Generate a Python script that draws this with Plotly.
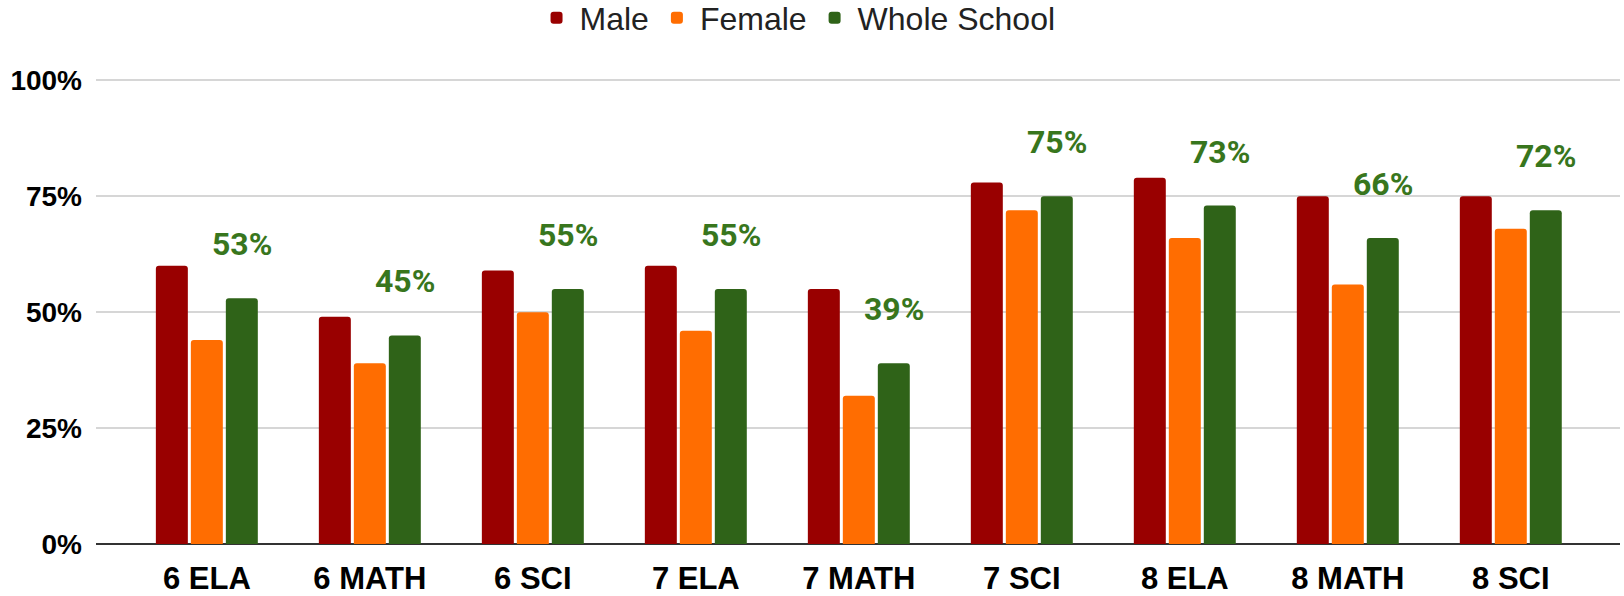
import plotly.graph_objects as go

categories = ["6 ELA", "6 MATH", "6 SCI", "7 ELA", "7 MATH", "7 SCI", "8 ELA", "8 MATH", "8 SCI"]
male = [0.60, 0.49, 0.59, 0.60, 0.55, 0.78, 0.79, 0.75, 0.75]
female = [0.44, 0.39, 0.50, 0.46, 0.32, 0.72, 0.66, 0.56, 0.68]
whole_school = [0.53, 0.45, 0.55, 0.55, 0.39, 0.75, 0.73, 0.66, 0.72]
y_ticks = [0, 0.25, 0.5, 0.75, 1.0]

series = [
    ("Male", male, "#990000"),
    ("Female", female, "#ff6d01"),
    ("Whole School", whole_school, "#2f6318"),
]

fig = go.Figure()
for name, vals, color in series:
    fig.add_trace(
        go.Bar(
            x=categories,
            y=vals,
            name=name,
            marker=dict(color=color, line=dict(width=0), cornerradius=3),
        )
    )

# green value labels floating above the Whole School bars
for cat, v in zip(categories, whole_school):
    fig.add_annotation(
        x=cat,
        y=v,
        text=f"{v:.0%}",
        showarrow=False,
        xshift=35,
        yshift=54,
        yanchor="middle",
        font=dict(family="Roboto", size=32, color="#38761d", weight="bold"),
    )

fig.update_layout(
    width=1624,
    height=596,
    barmode="group",
    bargap=0.356,
    bargroupgap=0.086,
    paper_bgcolor="white",
    plot_bgcolor="white",
    margin=dict(l=96, r=4, t=79, b=52, autoexpand=False),
    font=dict(family="Liberation Sans", color="#222222"),
    legend=dict(
        orientation="h",
        xref="paper",
        x=0.46,
        xanchor="center",
        yref="container",
        y=1 - 18 / 596,
        yanchor="middle",
        font=dict(size=32, color="#222222"),
        itemwidth=36,
        tracegroupgap=0,
        bgcolor="rgba(0,0,0,0)",
    ),
    showlegend=True,
)

fig.update_xaxes(
    range=[-0.68, 8.67],
    automargin=False,
    showgrid=False,
    zeroline=False,
    showline=False,
    ticks="",
    ticklabelstandoff=13,
    tickfont=dict(size=31, color="#000000", weight="bold"),
)

fig.update_yaxes(
    range=[0, 1.003],
    automargin=False,
    tickvals=y_ticks,
    tickformat=".0%",
    showgrid=True,
    gridcolor="#d6d6d6",
    gridwidth=2,
    zeroline=True,
    zerolinecolor="#333333",
    zerolinewidth=2,
    showline=False,
    ticks="",
    ticklabelstandoff=13,
    tickfont=dict(size=28, color="#000000", weight="bold"),
)

# drop the default 8px page margin so the figure sits at the window origin
fig.write_html(
    "out.html",
    config={"displayModeBar": False},
    post_script="document.body.style.margin='0';",
)
